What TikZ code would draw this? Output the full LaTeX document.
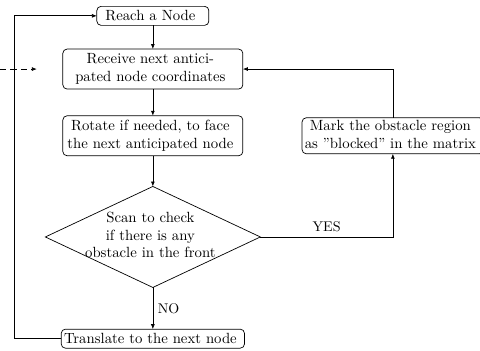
\documentclass[tikz,border=0pt]{standalone}
\usepackage{fontspec}
\usetikzlibrary{matrix,arrows.meta,shapes.geometric}
\tikzset{
  centered/.style = { align=center, anchor=center },
     block/.style = { draw, rounded corners=3pt, centered, inner xsep=2pt, inner ysep=0pt,
                      minimum width=4.5cm, minimum height=1cm },
      slim/.style = { block, minimum height=0.475cm },
  decision/.style = { draw, diamond, centered, inner sep=0pt,
                      minimum width=5.375cm, minimum height=2.525cm },
    answer/.style = { font=\fontsize{10}{12}\selectfont },
     arrow/.style = { ->, >={Latex[length=3.5pt,width=2.8pt]} },
}
\newcommand*{\lines}[1]{\begin{tabular}{@{}c@{}}#1\end{tabular}}
% text that may run over the diamond's edges
\newcommand*{\overrun}[1]{\makebox[0pt]{\raisebox{-2.5pt}[0pt][0pt]{\lines{#1}}}}

\begin{document}
\begin{tikzpicture}[line width=0.5pt]
  \useasboundingbox (0,0) rectangle (12,-8.775);
  \matrix (m) at (1.125,-0.15)
    [
      matrix of nodes,
      anchor     = north west,
      inner sep  = 0pt,
      outer sep  = 0pt,
      column sep = 1.025cm,
      row sep    = 0.575cm,
      nodes      = { font=\fontsize{10.5}{12.6}\selectfont },
    ]
    {
      |[slim, minimum width=2.8cm]| Reach a Node & \\
      |[block]| \lines{Receive next antici-\\pated node coordinates} & \\[0.075cm]
      |[block]| \lines{Rotate if needed, to face\\the next anticipated node}
        & |[block, minimum width=4.45cm, minimum height=0.9cm]|
          \lines{Mark the obstacle region\\as ''blocked'' in the matrix} \\[0.175cm]
      |[decision]| \overrun{Scan to check\\if there is any\\obstacle in the front} & \\[0.45cm]
      |[slim]| Translate to the next node & \\
    };
  \foreach \i/\j in {1/2,2/3,3/4} {
    \draw [arrow] (m-\i-1) -- (m-\j-1);
  }
  \draw [arrow] (m-4-1) -- node [answer, right] {NO} (m-5-1);
  \draw [arrow] (m-4-1.east) -| node [answer, above, pos=0.25] {YES} (m-3-2);
  \draw [arrow] (m-3-2) |- (m-2-1);
  \draw [arrow] (m-5-1.west) -- ++(-1.175,0) |- (m-1-1);
  % outside input
  \coordinate (entry) at ([xshift=-0.65cm]m-2-1.west);
  \coordinate (feed)  at ([xshift=-1.575cm]m-2-1.west);
  \draw [arrow, dash pattern=on 4.5pt off 3pt] (feed) -- (entry);
\end{tikzpicture}
\end{document}
